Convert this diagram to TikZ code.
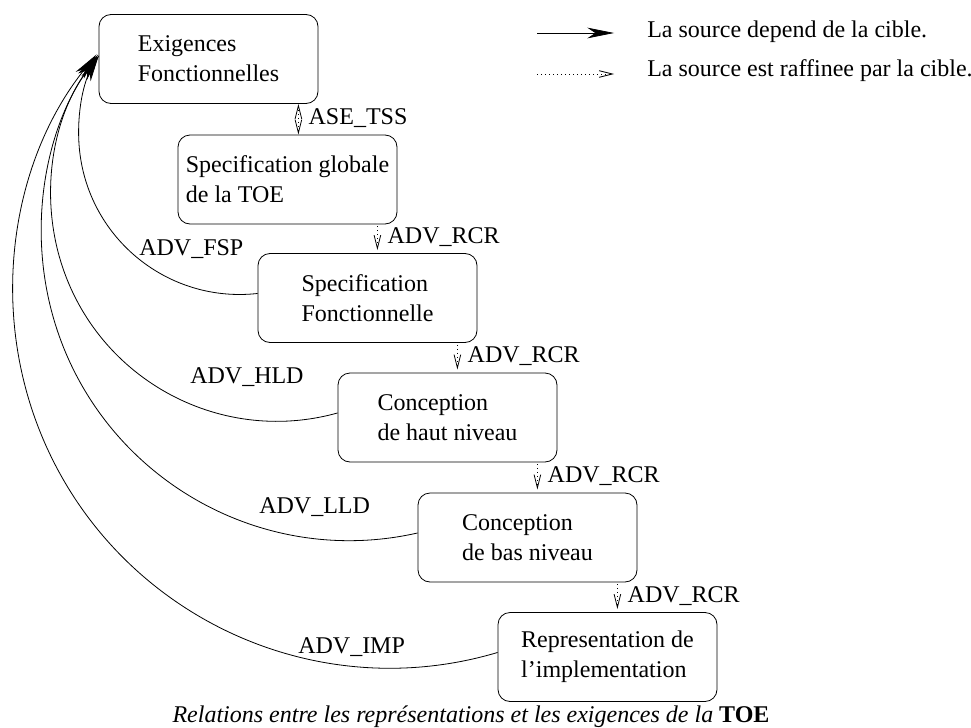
\documentclass[tikz,border=0pt]{standalone}
\usepackage{fontspec}
\setmainfont{Liberation Serif}
\usetikzlibrary{arrows.meta,calc}

\tikzset{
  box/.style={draw, semithick, rounded corners=9pt, align=left,
    minimum width=164.25pt, minimum height=66.75pt, inner sep=0pt},
  depend/.style={semithick, -{Stealth[length=20pt,width=8pt,inset=6pt]}},
  dots/.style={semithick, dash pattern=on 0.8pt off 2.2pt},
  refine/.style={dots, -{Straight Barb[length=10pt,width=5pt]}},
  twoway/.style={dots,
    {Straight Barb[length=10pt,width=5pt]}-{Straight Barb[length=10pt,width=5pt]}},
  lbl/.style={anchor=base west, inner sep=0pt},
}

\begin{document}
\begin{tikzpicture}[x=0.75pt,y=0.75pt,font=\fontsize{18}{22.5}\selectfont]
  \useasboundingbox (0,0) rectangle (971,-728);
  % Draw boxes
  \node[box] (exig) at (208.5,-59)   {Exigences\\Fonctionnelles};
  \node[box] (glob) at (287.5,-179.5) {Specification globale\\de la TOE};
  \node[box] (fonc) at (367.5,-298)  {Specification\\Fonctionnelle};
  \node[box] (haut) at (447.5,-417.5) {Conception\\de haut niveau};
  \node[box] (bas)  at (527.5,-537.5) {Conception\\de bas niveau};
  \node[box] (impl) at (607.5,-657)  {Representation de\\l'implementation};
  % Draw refinement arrows
  \coordinate (r1) at ($(exig.south east)+(-20,0)$);
  \draw[twoway] (r1) -- (r1 |- glob.north);
  \node[lbl] (tss) at ($(r1 |- glob.north)+(10,10)$) {ASE\_TSS};
  \coordinate (r2) at ($(glob.south east)+(-20,-2)$);
  \draw[refine] (r2) -- ($(r2 |- fonc.north)+(0,3)$);
  \node[lbl] (rcr1) at ($(r2 |- fonc.north)+(10,10)$) {ADV\_RCR};
  \coordinate (r3) at ($(fonc.south east)+(-20,-2)$);
  \draw[refine] (r3) -- ($(r3 |- haut.north)+(0,3)$);
  \node[lbl] (rcr2) at ($(r3 |- haut.north)+(10,10)$) {ADV\_RCR};
  \coordinate (r4) at ($(haut.south east)+(-20,-2)$);
  \draw[refine] (r4) -- ($(r4 |- bas.north)+(0,3)$);
  \node[lbl] (rcr3) at ($(r4 |- bas.north)+(10,10)$) {ADV\_RCR};
  \coordinate (r5) at ($(bas.south east)+(-20,-2)$);
  \draw[refine] (r5) -- ($(r5 |- impl.north)+(0,3)$);
  \node[lbl] (rcr4) at ($(r5 |- impl.north)+(10,10)$) {ADV\_RCR};
  % Draw dependency arcs
  \draw[depend] ([yshift=3.4pt]fonc.west) arc[start angle=-83.6, end angle=-209, radius=161];
  \draw[depend] ([yshift=3.4pt]haut.west) arc[start angle=-74.4, end angle=-218.2, radius=226];
  \draw[depend] ([yshift=3.4pt]bas.west)  arc[start angle=-77.2, end angle=-215.3, radius=308];
  \draw[depend] ([yshift=3.4pt]impl.west) arc[start angle=-73.4, end angle=-218.9, radius=377];
  \node[lbl] (fsp) at (139,-255) {ADV\_FSP};
  \node[lbl] (hld) at (190,-383) {ADV\_HLD};
  \node[lbl] (lld) at (259,-513) {ADV\_LLD};
  \node[lbl] (imp) at (298,-653) {ADV\_IMP};
  % Draw legend
  \coordinate (s1) at (537,-33);
  \coordinate (e1) at (614,-33);
  \draw[depend] (s1) -- (e1);
  \node[lbl] (ldep) at (647,-37) {La source depend de la cible.};
  \coordinate (s2) at (537,-74);
  \coordinate (e2) at (614,-74);
  \draw[refine] (s2) -- (e2);
  \node[lbl] (lref) at (647,-76) {La source est raffinee par la cible.};
  % Caption
  \node[anchor=base] (cap) at (471,-722)
        {\itshape Relations entre les représentations et les exigences de la \textbf{\upshape TOE}};
\end{tikzpicture}
\end{document}
